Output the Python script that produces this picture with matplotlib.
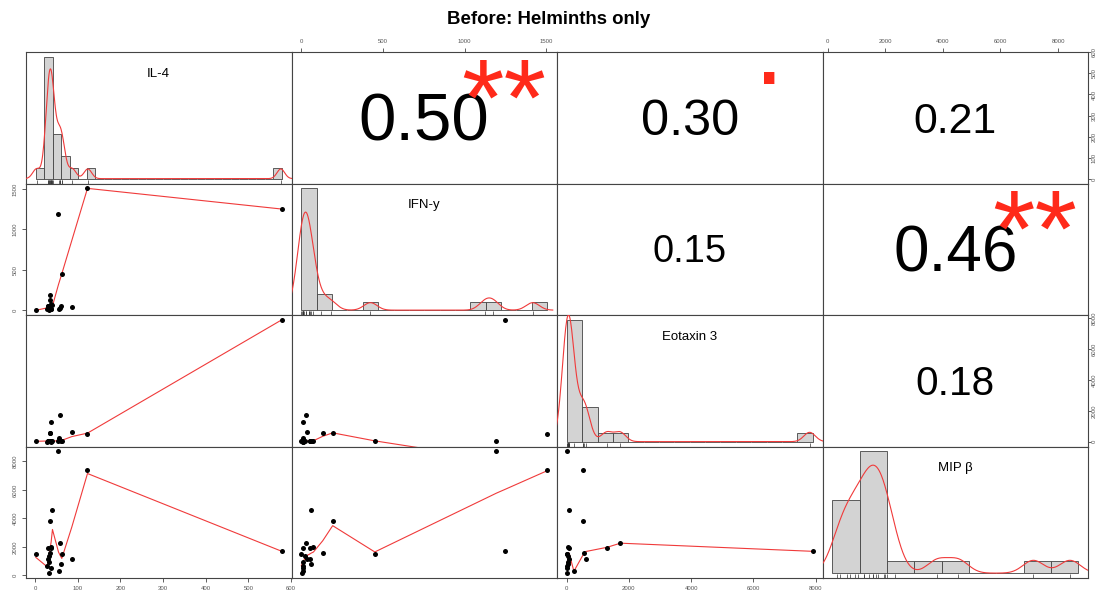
import numpy as np
import matplotlib
matplotlib.use("Agg")
import matplotlib.pyplot as plt
from matplotlib.textpath import TextPath
from matplotlib.font_manager import FontProperties
from matplotlib.transforms import ScaledTranslation

names = ["IL-4", "IFN-y", "Eotaxin 3", "MIP β"]
il4 = [578, 122.7, 54.7, 62.5, 86, 58, 37.5, 35, 35, 40.6, 1.6,
       56, 61, 28, 37.5, 33, 32, 30, 33, 36, 29.7]
ifn = [1250, 1506, 1195, 450, 33, 31, 12, 192, 131, 61, 0,
       12, 57, 10, 8, 5, 8, 51, 20, 74, 51]
eot = [7900, 520, 22, 30, 627, 1730, 1300, 540, 545, 65, 30,
       237, 45, 15, 10, 22, 60, 80, 50, 40, 70]
mip = [1690, 7360, 8700, 1500, 1150, 2290, 1930, 3850, 1590, 4608, 1497,
       290, 819, 631, 538, 164, 950, 1170, 1350, 1990, 1900]

# histogram bin widths and axis ticks per variable
bin_width = [20, 100, 500, 1000]
ticks = [[0, 100, 200, 300, 400, 500, 600],
         [0, 500, 1000, 1500],
         [0, 2000, 4000, 6000, 8000],
         [0, 2000, 4000, 6000, 8000]]

# correlations printed in the upper triangle, with significance marks
upper_pairs = [(0, 1), (0, 2), (0, 3), (1, 2), (1, 3), (2, 3)]
corr_values = ["0.50", "0.30", "0.21", "0.15", "0.46", "0.18"]
signif = ["**", ".", "", "", "**", ""]

title = "Before: Helminths only"

FONT = "Liberation Sans"
plt.rcParams['font.family'] = [FONT, 'DejaVu Sans']

W, H = 1098, 596
PX_L, PX_R, PX_T, PX_B = 26, 1088, 52, 578
BOX = '#444444'
RED = '#f03a3a'
STAR = '#ff2a1a'


def pad_range(lo, hi, frac=0.04):
    d = (hi - lo) * frac
    return lo - d, hi + d


def _lowest(x, y, xs, nleft, nright, rw, use_rw):
    n = len(x)
    rng = x[-1] - x[0]
    h = max(xs - x[nleft], x[nright] - xs)
    h9, h1 = 0.999 * h, 0.001 * h
    w = np.zeros(n)
    a = 0.0
    j = nleft
    while j < n:
        r = abs(x[j] - xs)
        if r <= h9:
            w[j] = 1.0 if r <= h1 else (1 - (r / h) ** 3) ** 3
            if use_rw:
                w[j] *= rw[j]
            a += w[j]
        elif x[j] > xs:
            break
        j += 1
    nrt = j - 1
    if a <= 0:
        return 0.0, False
    sl = slice(nleft, nrt + 1)
    w[sl] /= a
    if h > 0:
        a = np.sum(w[sl] * x[sl])
        b = xs - a
        c = np.sum(w[sl] * (x[sl] - a) ** 2)
        if np.sqrt(c) > 0.001 * rng:
            b /= c
            w[sl] *= b * (x[sl] - a) + 1.0
    return np.sum(w[sl] * y[sl]), True


def lowess(x, y, f=2 / 3, iters=3):
    """Port of R's clowess (as used by panel.smooth)"""
    x = np.asarray(x, float)
    y = np.asarray(y, float)
    o = np.argsort(x, kind='stable')
    x, y = x[o], y[o]
    n = len(x)
    ns = max(min(int(f * n + 1e-7), n), 2)
    delta = 0.01 * (x[-1] - x[0])
    ys = np.zeros(n)
    rw = np.ones(n)
    for it in range(iters + 1):
        nleft, nright, last, i = 0, ns - 1, -1, 0
        while True:
            if nright < n - 1 and x[i] - x[nleft] > x[nright + 1] - x[i]:
                nleft += 1
                nright += 1
                continue
            val, ok = _lowest(x, y, x[i], nleft, nright, rw, it > 0)
            ys[i] = val if ok else y[i]
            if last < i - 1:
                denom = x[i] - x[last]
                for j in range(last + 1, i):
                    al = (x[j] - x[last]) / denom
                    ys[j] = al * ys[i] + (1 - al) * ys[last]
            last = i
            cut = x[last] + delta
            k = last + 1
            while k < n:
                if x[k] > cut:
                    break
                if x[k] == x[last]:
                    ys[k] = ys[last]
                    last = k
                k += 1
            i = max(last + 1, k - 1)
            if last >= n - 1:
                break
        res = y - ys
        if it == iters:
            break
        sc = np.mean(np.abs(res))
        ar = np.abs(res)
        srt = np.sort(ar)
        m1 = n // 2
        cmad = 3 * (srt[m1] + srt[n - m1 - 1]) if n % 2 == 0 else 6 * srt[m1]
        if cmad < 1e-7 * sc:
            break
        rw = np.where(ar <= 0.001 * cmad, 1.0,
                      np.where(ar <= 0.999 * cmad, (1 - (ar / cmad) ** 2) ** 2, 0.0))
    return x, ys


def kde(v):
    v = np.asarray(v, float)
    n = len(v)
    iqr = np.subtract(*np.percentile(v, [75, 25]))
    bw = 0.9 * min(np.std(v, ddof=1), iqr / 1.34) * n ** -0.2
    grid = np.linspace(v.min() - 3 * bw, v.max() + 3 * bw, 512)
    dens = np.exp(-0.5 * ((grid[:, None] - v[None, :]) / bw) ** 2).sum(1)
    dens /= n * bw * np.sqrt(2 * np.pi)
    return grid, dens


def ink_center(txt, size):
    tp = TextPath((0, 0), txt, size=size, prop=FontProperties(family=FONT))
    e = tp.get_extents()
    return (e.y0 + e.y1) / 2


data = [np.array(il4, float), np.array(ifn, float),
        np.array(eot, float), np.array(mip, float)]
nv = len(data)

fig = plt.figure(figsize=(W / 100, H / 100), dpi=100)
renderer = fig.canvas.get_renderer()
pw = (PX_R - PX_L) / nv
ph = (PX_B - PX_T) / nv

tick_kw = dict(length=3, width=0.6, pad=3, labelsize=4.3,
               color=BOX, labelcolor='#555555')

axes = {}
for i in range(nv):
    for j in range(nv):
        left = (PX_L + j * pw) / W
        bottom = 1 - (PX_T + (i + 1) * ph) / H
        ax = fig.add_axes([left, bottom, pw / W, ph / H])
        axes[(i, j)] = ax
        for s in ax.spines.values():
            s.set_color(BOX)
            s.set_linewidth(0.8)
        ax.tick_params(left=False, bottom=False, labelleft=False, labelbottom=False)
        ax.set_xlim(pad_range(data[j].min(), data[j].max()))
        ax.set_ylim(pad_range(data[i].min(), data[i].max()))

        # outer axes like R's pairs(): alternate sides
        if i == 0 and j % 2 == 1:
            ax.set_xticks(ticks[j])
            ax.tick_params(axis='x', top=True, labeltop=True, **tick_kw)
        if i == nv - 1 and j % 2 == 0:
            ax.set_xticks(ticks[j])
            ax.tick_params(axis='x', bottom=True, labelbottom=True, **tick_kw)
        if j == 0 and i % 2 == 1:
            ax.set_yticks(ticks[i])
            ax.tick_params(axis='y', left=True, labelleft=True, **tick_kw)
            for lab in ax.get_yticklabels():
                lab.set_rotation(90)
                lab.set_va('center')
        if j == nv - 1 and i % 2 == 0:
            # right-hand side sits against the image edge, keep it tight
            ax.set_yticks(ticks[i])
            ax.tick_params(axis='y', right=True, labelright=True,
                           **dict(tick_kw, length=2.2, pad=0.6))
            for lab in ax.get_yticklabels():
                lab.set_rotation(90)
                lab.set_va('center')

        if i == j:
            # histogram (density scale) + kernel density + rug
            v = data[i]
            bwid = bin_width[i]
            edges = np.arange(0, np.ceil(v.max() / bwid) * bwid + bwid / 2, bwid)
            counts, _ = np.histogram(v, bins=edges)
            dens = counts / (len(v) * bwid)
            ax.set_xlim(pad_range(edges[0], edges[-1]))
            ax.set_ylim(pad_range(0, dens.max()))
            ax.bar(edges[:-1], dens, width=bwid, align='edge', color='#d3d3d3',
                   edgecolor=BOX, linewidth=0.6, zorder=2)
            gx, gy = kde(v)
            ax.plot(gx, gy, color=RED, lw=0.8, zorder=3)
            ax.vlines(v, 0, 0.03, transform=ax.get_xaxis_transform(),
                      color='#333333', lw=0.5, zorder=3)
            ax.text(0.5, 0.8333, names[i], transform=ax.transAxes,
                    ha='center', va='center', fontsize=9.5, zorder=4)
        elif i > j:
            # scatter with lowess smoother
            ax.plot(data[j], data[i], 'o', color='black', ms=3.6, mew=0, zorder=3)
            sx, sy = lowess(data[j], data[i])
            ax.plot(sx, sy, color=RED, lw=0.8, zorder=2)

# correlation coefficients, sized by |r| like chart.Correlation
for (i, j), txt, sig in zip(upper_pairs, corr_values, signif):
    ax = axes[(i, j)]
    r = float(txt)
    t = ax.text(0.5, 0.5, txt, transform=ax.transAxes, ha='center', fontsize=10)
    wpx = t.get_window_extent(renderer).width
    full_fs = 10 * (0.8 * pw) / wpx
    num_fs = full_fs * (abs(r) + 0.3) / 1.3
    t.set_fontsize(num_fs)
    t.set_va('baseline')
    cy = ink_center(txt, num_fs)
    t.set_transform(ax.transAxes + ScaledTranslation(0, -cy / 72, fig.dpi_scale_trans))
    if sig:
        cs = ink_center(sig, full_fs)
        ax.text(0.8, 0.8, sig, ha='center', va='baseline', fontsize=full_fs,
                color=STAR,
                transform=ax.transAxes + ScaledTranslation(0, -cs / 72, fig.dpi_scale_trans))

fig.text(0.5, 1 - 20 / H, title, ha='center', va='center',
         fontsize=13.4, fontweight='bold')

plt.savefig('out.png', dpi=100)
